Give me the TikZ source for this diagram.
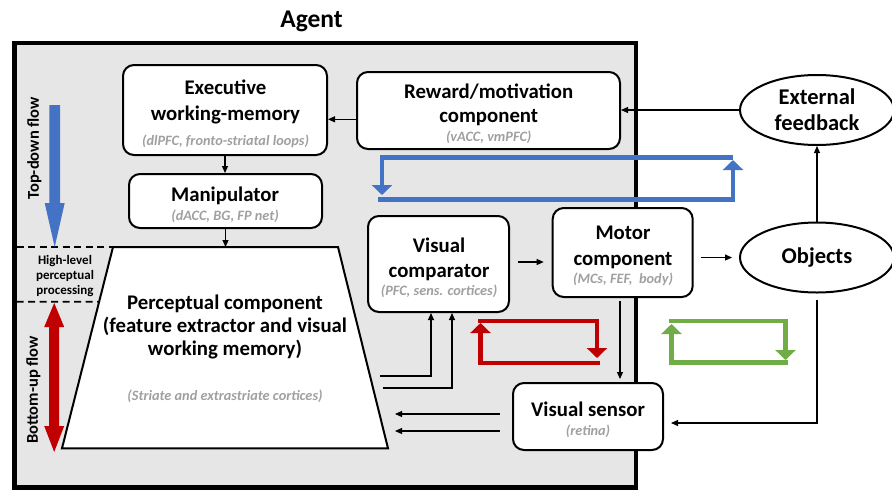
\documentclass[tikz,border=0pt]{standalone}
\usepackage{fontspec}
\setmainfont{Carlito}
\usetikzlibrary{arrows.meta,calc,shapes.geometric}
\definecolor{agentgray}{RGB}{231,230,230}
\definecolor{subgray}{RGB}{160,160,160}
\definecolor{loopblue}{RGB}{68,114,196}
\definecolor{loopred}{RGB}{192,0,0}
\definecolor{loopgreen}{RGB}{112,173,71}
\newcommand{\subtxt}[1]{{\fontsize{14.3}{15}\selectfont\bfseries\itshape\color{subgray}#1}}
\begin{document}
\begin{tikzpicture}[x=1pt,y=-1pt,
  box/.style={draw, line width=2pt, rounded corners=11pt, fill=white, inner sep=0pt},
  txt/.style={align=center, inner sep=0pt, font=\fontsize{20.8}{26}\selectfont\bfseries},
  ell/.style={draw, line width=2pt, ellipse, fill=white, inner sep=0pt, minimum width=154pt, minimum height=70pt, align=center, font=\fontsize{22.5}{26}\selectfont\bfseries},
  arr/.style={line width=1.1pt, -{Triangle[length=7pt,width=6pt]}},
  loopline/.style={line width=4.5pt, line join=miter, -{Triangle[length=10pt,width=20pt]}},
  dashline/.style={line width=1.6pt, dash pattern=on 7pt off 4.5pt},
  flowtxt/.style={rotate=90, inner sep=0pt, font=\fontsize{16.5}{20}\selectfont\bfseries}
]
\fill[white] (0,0) rectangle (892,491);
\useasboundingbox (0,0) rectangle (892,491);

% agent frame
\draw[line width=4.5pt, fill=agentgray] (14.5,42.8) rectangle (635.8,487.5);
\node[inner sep=0pt, anchor=base, font=\fontsize{25.5}{30}\selectfont\bfseries] (agenttitle) at (311.5,27) {Agent};

% perceptual trapezoid
\coordinate (ptl) at (113,247);
\coordinate (ptr) at (338,247);
\coordinate (pbr) at (388,448.3);
\coordinate (pbl) at (62,448.3);
\coordinate (perctop) at (225.5,247);
\draw[line width=2pt, fill=white, line join=miter] (ptl) -- (ptr) -- (pbr) -- (pbl) -- cycle;
\node[txt, font=\fontsize{20.8}{23}\selectfont\bfseries] (perc) at (225,348.5) {Perceptual component\\(feature extractor and visual\\working memory)\\[21.7pt]\subtxt{(Striate and extrastriate cortices)}};

% dashed separators
\coordinate (dtl) at (16.7,247);
\coordinate (dbl) at (16.7,301.7);
\coordinate (dbr) at ($(ptl)!54.7/201.3!(pbl)$);
\draw[dashline] (dtl) -- (ptl);
\draw[dashline] (dbl) -- (dbr);
\node[align=center, inner sep=0pt, font=\fontsize{13}{15}\selectfont\bfseries] (hlpp) at (65,276) {High-level\\perceptual\\processing};

% flow arrows
\fill[loopblue] (49.4,105) -- (60,105) -- (60,203) -- (64.7,203) -- (54.7,247) -- (44.7,203) -- (49.4,203) -- cycle;
\fill[loopred] (49.2,327) -- (44.2,327) -- (54.2,303) -- (64.2,327) -- (59.2,327) -- (59.2,426) -- (64.2,426) -- (54.2,452) -- (44.2,426) -- (49.2,426) -- cycle;
\node[flowtxt] (tdflow) at (34.3,148.3) {Top-down flow};
\node[flowtxt] (buflow) at (33.3,390) {Bottom-up flow};

% boxes
\node[box, minimum width=204pt, minimum height=90pt] (exec) at (225,110) {};
\node[txt] (exectxt) at (225.5,113.5) {Executive\\working-memory\\[-1.3pt]\subtxt{(dlPFC, fronto-striatal loops)}};

\node[box, minimum width=193pt, minimum height=54pt] (manip) at (225.5,201) {};
\node[txt] (maniptxt) at (225,204.5) {Manipulator\\[-7.3pt]\subtxt{(dACC, BG, FP net)}};

\node[box, minimum width=263pt, minimum height=77pt] (reward) at (488.5,110.5) {};
\node[txt, font=\fontsize{20.8}{24}\selectfont\bfseries] (rewardtxt) at (488.7,113.5) {Reward/motivation\\component\\[-5.3pt]\subtxt{(vACC, vmPFC)}};

\node[box, minimum width=141pt, minimum height=96pt] (comp) at (438.5,264) {};
\node[txt, font=\fontsize{20.8}{25}\selectfont\bfseries] (comptxt) at (439,267.5) {Visual\\comparator\\[-7.3pt]\subtxt{(PFC, sens. cortices)}};

\node[box, minimum width=140pt, minimum height=89pt] (motor) at (622.7,252.5) {};
\node[txt] (motortxt) at (623,256) {Motor\\component\\[-8.3pt]\subtxt{(MCs, FEF,\ \ body)}};

\node[box, minimum width=150pt, minimum height=67pt] (sensor) at (588,416.5) {};
\node[txt] (sensortxt) at (588,419.5) {Visual sensor\\[-7.3pt]\subtxt{(retina)}};

% external ellipses
\node[ell] (ext) at (817,110) {External\\feedback};
\node[ell] (obj) at (817,257.5) {Objects};

% loops
\draw[loopline, loopblue] (733,157.5) -- (382,157.5) -- (382,195);
\draw[loopline, loopblue] (378,199.5) -- (733,199.5) -- (733,160);
\draw[loopline, loopred] (478,321) -- (597,321) -- (597,358);
\draw[loopline, loopred] (599.5,363) -- (480.5,363) -- (480.5,323);
\draw[loopline, loopgreen] (669,321) -- (785.5,321) -- (785.5,360);
\draw[loopline, loopgreen] (788,362.5) -- (671.5,362.5) -- (671.5,324);

% connectors
\draw[arr] (exec.south) -- (exec.south |- manip.north);
\draw[arr] (manip.south) -- (perctop);
\draw[arr] ([yshift=-8.8pt]reward.west) -- ([yshift=-8.8pt]reward.west -| exec.east);
\draw[arr] (ext.west) -- (ext.west -| reward.east);
\draw[arr] (obj.north) -- (ext.south);
\draw[arr, shorten <=7pt, shorten >=7pt] (motor.east |- obj.west) -- (obj.west);
\draw[arr, shorten <=8pt, shorten >=8pt] ([yshift=2pt]comp.east) -- ([yshift=2pt]comp.east -| motor.west);
\draw[arr, shorten <=3pt, shorten >=3pt] ([xshift=-2.7pt]motor.south) -- ([xshift=-2.7pt]motor.south |- sensor.north);
\draw[arr, shorten <=6pt, shorten >=7pt] (obj.south) |- ([yshift=-6.5pt]sensor.east);

\coordinate (pin1) at (395,414);
\coordinate (pin2) at (395,431);
\draw[arr, shorten <=12pt] (sensor.west |- pin1) -- (pin1);
\draw[arr, shorten <=12pt] (sensor.west |- pin2) -- (pin2);

\coordinate (pout1) at (380,376);
\coordinate (pout2) at (383,388);
\draw[arr] (pout1) -| ([xshift=-7.5pt]comp.south);
\draw[arr] (pout2) -| ([xshift=13.5pt]comp.south);
\end{tikzpicture}
\end{document}
